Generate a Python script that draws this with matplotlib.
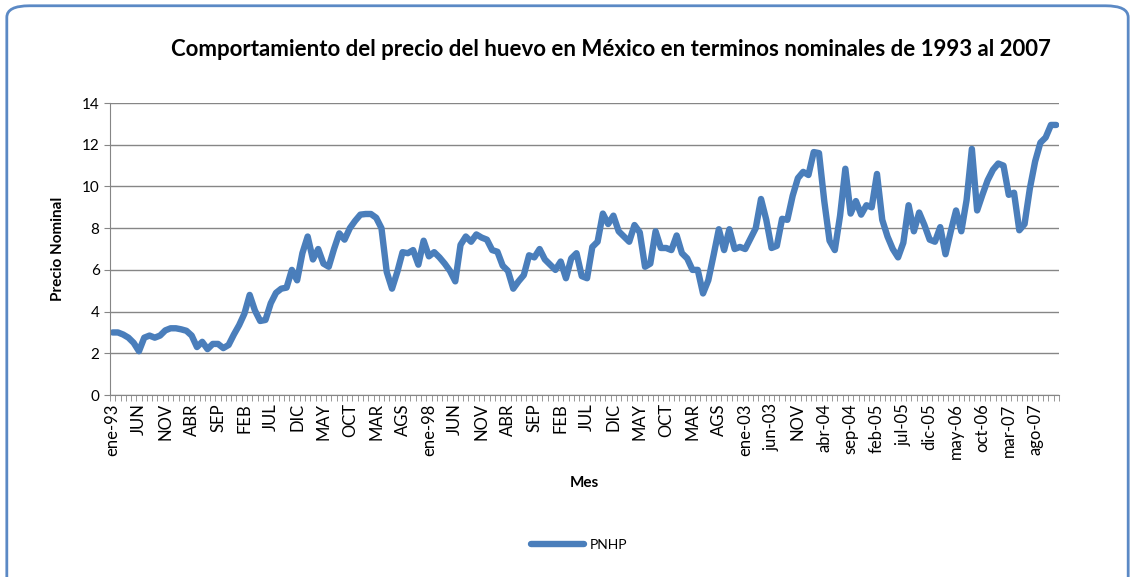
import matplotlib
matplotlib.use("Agg")
import matplotlib.pyplot as plt
from matplotlib.patches import FancyBboxPatch

plt.rcParams["font.family"] = ["Lato", "DejaVu Sans"]

# precio nominal mensual, ene-93 .. dic-07
precio = [
    3.0, 3.0, 2.9, 2.75, 2.5, 2.1, 2.75, 2.85, 2.75, 2.85,
    3.1, 3.2, 3.2, 3.15, 3.08, 2.85, 2.3, 2.55, 2.2, 2.45,
    2.45, 2.25, 2.4, 2.9, 3.35, 3.9, 4.8, 4.05, 3.55, 3.6,
    4.4, 4.9, 5.1, 5.15, 6.0, 5.5, 6.8, 7.6, 6.5, 7.0,
    6.3, 6.15, 7.0, 7.75, 7.45, 8.0, 8.35, 8.65, 8.68, 8.68,
    8.5, 8.0, 5.9, 5.1, 5.9, 6.85, 6.8, 6.95, 6.25, 7.4,
    6.65, 6.85, 6.6, 6.3, 5.95, 5.45, 7.2, 7.6, 7.35, 7.7,
    7.55, 7.45, 6.95, 6.87, 6.2, 5.95, 5.1, 5.45, 5.75, 6.7,
    6.6, 7.0, 6.5, 6.25, 6.0, 6.4, 5.6, 6.55, 6.8, 5.7,
    5.6, 7.1, 7.35, 8.7, 8.2, 8.6, 7.85, 7.6, 7.35, 8.15,
    7.8, 6.15, 6.3, 7.85, 7.05, 7.05, 6.95, 7.65, 6.8, 6.55,
    6.0, 6.0, 4.87, 5.5, 6.7, 7.95, 6.95, 7.95, 7.0, 7.1,
    7.0, 7.5, 8.0, 9.4, 8.4, 7.05, 7.15, 8.45, 8.4, 9.55,
    10.4, 10.7, 10.55, 11.65, 11.6, 9.3, 7.4, 6.95, 8.6, 10.85,
    8.7, 9.3, 8.65, 9.1, 9.0, 10.6, 8.4, 7.6, 7.0, 6.6,
    7.3, 9.1, 7.85, 8.75, 8.15, 7.45, 7.35, 8.05, 6.75, 7.85,
    8.85, 7.85, 9.35, 11.8, 8.85, 9.6, 10.3, 10.8, 11.1, 11.0,
    9.6, 9.7, 7.9, 8.2, 9.9, 11.2, 12.1, 12.35, 12.95, 12.95,
]

etiquetas = [
    "ene-93", "JUN", "NOV", "ABR", "SEP", "FEB", "JUL", "DIC", "MAY", "OCT",
    "MAR", "AGS", "ene-98", "JUN", "NOV", "ABR", "SEP", "FEB", "JUL", "DIC",
    "MAY", "OCT", "MAR", "AGS", "ene-03", "jun-03", "NOV", "abr-04", "sep-04",
    "feb-05", "jul-05", "dic-05", "may-06", "oct-06", "mar-07", "ago-07",
]
paso = 5

fig = plt.figure(figsize=(11.35, 5.77), dpi=100)
ax = fig.add_axes([0.0969, 0.3154, 0.836, 0.506])

meses = list(range(len(precio)))
ax.plot(meses, precio, color="#4A7EBB", linewidth=4.6, solid_capstyle="round",
        label="PNHP")

ax.set_xlim(-0.5, len(precio) - 0.5)
ax.set_ylim(0, 14)
ax.set_yticks(range(0, 15, 2))
ax.set_xticks(range(0, len(precio), paso))
ax.set_xticklabels(etiquetas, rotation=90, fontsize=12)
ax.set_xticks([m - 0.5 for m in range(len(precio) + 1)], minor=True)
ax.tick_params(axis="x", which="major", length=0, pad=6)
ax.tick_params(axis="x", which="minor", length=4, color="#868686", direction="out")
ax.tick_params(axis="y", length=4, color="#868686", labelsize=11)

ax.grid(True, axis="y", color="#868686", linewidth=1)
ax.set_axisbelow(True)
for lado in ("top", "right"):
    ax.spines[lado].set_visible(False)
for lado in ("left", "bottom"):
    ax.spines[lado].set_color("#868686")

ax.set_ylabel("Precio Nominal", fontsize=11, fontweight="bold", labelpad=12)
ax.set_xlabel("Mes", fontsize=11, fontweight="bold", labelpad=12)
fig.text(0.538, 0.915, "Comportamiento del precio del huevo en México en terminos "
         "nominales de 1993 al 2007", ha="center", va="center",
         fontsize=16, fontweight="bold")

fig.legend(loc="center", bbox_to_anchor=(0.51, 0.055), frameon=False,
           fontsize=10, handlelength=3.8, handletextpad=0.4)

marco = FancyBboxPatch((0.006, -0.05), 0.988, 1.04, transform=fig.transFigure,
                       boxstyle="round,pad=0,rounding_size=0.02",
                       fill=False, edgecolor="#5B89C5", linewidth=2)
fig.patches.append(marco)

fig.savefig("out.png", dpi=100)
